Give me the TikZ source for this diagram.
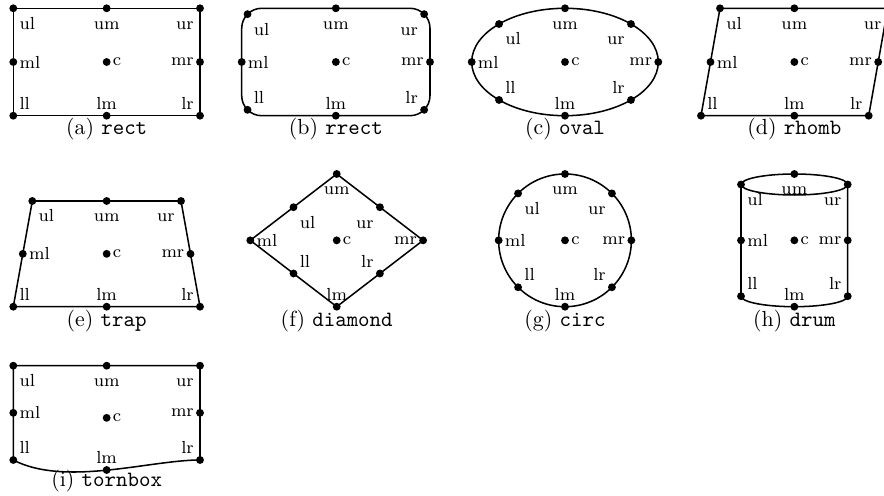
\documentclass[tikz,border=0pt]{standalone}
\tikzset{
  dot/.style={circle, fill=black, inner sep=0pt, minimum size=3.6pt},
  lab/.style={font=\footnotesize, inner sep=2.67pt},
  labUL/.style={lab, anchor=north west, text height=6.7pt, text depth=0pt},
  labUM/.style={lab, anchor=north, text height=6.7pt, text depth=0pt},
  labUR/.style={lab, anchor=north east, text height=6.7pt, text depth=0pt},
  labML/.style={lab, anchor=west},
  labMR/.style={lab, anchor=east},
  labLL/.style={lab, anchor=south west},
  labLM/.style={lab, anchor=south},
  labLR/.style={lab, anchor=south east},
  shp/.style={draw, line width=0.7pt},
  capt/.style={anchor=base, inner sep=0pt, font=\normalsize}
}
\newcommand\putpts[1]{%
  \node[dot] (#1-ul-d) at (#1-ul) {}; \node[labUL] (#1-ul-t) at (#1-ul) {ul};
  \node[dot] (#1-um-d) at (#1-um) {}; \node[labUM] (#1-um-t) at (#1-um) {um};
  \node[dot] (#1-ur-d) at (#1-ur) {}; \node[labUR] (#1-ur-t) at (#1-ur) {ur};
  \node[dot] (#1-ml-d) at (#1-ml) {}; \node[labML] (#1-ml-t) at (#1-ml) {ml};
  \node[dot] (#1-c-d)  at (#1-c)  {}; \node[labML] (#1-c-t)  at (#1-c)  {c};
  \node[dot] (#1-mr-d) at (#1-mr) {}; \node[labMR] (#1-mr-t) at (#1-mr) {mr};
  \node[dot] (#1-ll-d) at (#1-ll) {}; \node[labLL] (#1-ll-t) at (#1-ll) {ll};
  \node[dot] (#1-lm-d) at (#1-lm) {}; \node[labLM] (#1-lm-t) at (#1-lm) {lm};
  \node[dot] (#1-lr-d) at (#1-lr) {}; \node[labLR] (#1-lr-t) at (#1-lr) {lr};
}
\begin{document}
\begin{tikzpicture}[x=0.4575pt, y=-0.4575pt]
\useasboundingbox (0,0) rectangle (884,496);

% ---------- (a) rect ----------
\coordinate (A-ul) at (13.3,8.3);   \coordinate (A-um) at (106.65,8.3);  \coordinate (A-ur) at (200,8.3);
\coordinate (A-ml) at (13.3,62);    \coordinate (A-c)  at (106.65,62);   \coordinate (A-mr) at (200,62);
\coordinate (A-ll) at (13.3,115.7); \coordinate (A-lm) at (106.65,115.7);\coordinate (A-lr) at (200,115.7);
\draw[shp] (A-ul) -- (A-ur) -- (A-lr) -- (A-ll) -- cycle;
\putpts{A}
\node[capt] (A-cap) at (106.65,135) {(a) \texttt{rect}};

% ---------- (b) rrect ----------
\coordinate (B-nw) at (241.7,8.3); \coordinate (B-se) at (430,115.7);
\coordinate (B-ul) at (247.56,14.16); \coordinate (B-um) at (335.85,8.3);  \coordinate (B-ur) at (424.14,14.16);
\coordinate (B-ml) at (241.7,62);     \coordinate (B-c)  at (335.85,62);   \coordinate (B-mr) at (430,62);
\coordinate (B-ll) at (247.56,109.84);\coordinate (B-lm) at (335.85,115.7);\coordinate (B-lr) at (424.14,109.84);
\draw[shp, rounded corners=9.15pt] (B-nw) rectangle (B-se);
\putpts{B}
\node[capt] (B-cap) at (335.85,135) {(b) \texttt{rrect}};

% ---------- (c) oval ----------
\coordinate (C-ul) at (499.03,24.03); \coordinate (C-um) at (565,8.3);  \coordinate (C-ur) at (630.97,24.03);
\coordinate (C-ml) at (471.7,62);     \coordinate (C-c)  at (565,62);   \coordinate (C-mr) at (658.3,62);
\coordinate (C-ll) at (499.03,99.97); \coordinate (C-lm) at (565,115.7);\coordinate (C-lr) at (630.97,99.97);
\draw[shp] (C-c) ellipse [x radius=42.68pt, y radius=24.57pt];
\putpts{C}
\node[capt] (C-cap) at (565,135) {(c) \texttt{oval}};

% ---------- (d) rhomb ----------
\coordinate (D-ul) at (720,8.3);    \coordinate (D-um) at (794.35,8.3);  \coordinate (D-ur) at (887.7,8.3);
\coordinate (D-ml) at (710.5,62);   \coordinate (D-c)  at (794.35,62);   \coordinate (D-mr) at (878.2,62);
\coordinate (D-ll) at (701,115.7);  \coordinate (D-lm) at (794.35,115.7);\coordinate (D-lr) at (868.7,115.7);
\draw[shp] (D-ul) -- (D-ur) -- (D-lr) -- (D-ll) -- cycle;
\putpts{D}
\node[capt] (D-cap) at (794.35,135) {(d) \texttt{rhomb}};

% ---------- (e) trap ----------
\coordinate (E-ul) at (32.3,201);   \coordinate (E-um) at (106.65,201);  \coordinate (E-ur) at (181,201);
\coordinate (E-ml) at (22.8,253.85);\coordinate (E-c)  at (106.65,253.85);\coordinate (E-mr) at (190.5,253.85);
\coordinate (E-ll) at (13.3,306.7); \coordinate (E-lm) at (106.65,306.7);\coordinate (E-lr) at (200,306.7);
\draw[shp] (E-ul) -- (E-ur) -- (E-lr) -- (E-ll) -- cycle;
\putpts{E}
\node[capt] (E-cap) at (106.65,326.5) {(e) \texttt{trap}};

% ---------- (f) diamond ----------
\coordinate (F-ul) at (293.5,207.2); \coordinate (F-um) at (336.7,174);    \coordinate (F-ur) at (379.9,207.2);
\coordinate (F-ml) at (250.3,240.35);\coordinate (F-c)  at (336.7,240.35); \coordinate (F-mr) at (423.1,240.35);
\coordinate (F-ll) at (293.5,273.5); \coordinate (F-lm) at (336.7,306.7);  \coordinate (F-lr) at (379.9,273.5);
\draw[shp] (F-um) -- (F-mr) -- (F-lm) -- (F-ml) -- cycle;
\putpts{F}
\node[capt] (F-cap) at (336.7,326.5) {(f) \texttt{diamond}};

% ---------- (g) circ ----------
\coordinate (G-ul) at (518.08,193.43); \coordinate (G-um) at (565,174);    \coordinate (G-ur) at (611.92,193.43);
\coordinate (G-ml) at (498.65,240.35); \coordinate (G-c)  at (565,240.35); \coordinate (G-mr) at (631.35,240.35);
\coordinate (G-ll) at (518.08,287.27); \coordinate (G-lm) at (565,306.7);  \coordinate (G-lr) at (611.92,287.27);
\draw[shp] (G-c) circle [radius=30.36pt];
\putpts{G}
\node[capt] (G-cap) at (565,326.5) {(g) \texttt{circ}};

% ---------- (h) drum ----------
\coordinate (H-tc) at (794.35,184.5);
\coordinate (H-ul) at (741,184.5);   \coordinate (H-um) at (794.35,174);    \coordinate (H-ur) at (847.7,184.5);
\coordinate (H-ml) at (741,240.35);  \coordinate (H-c)  at (794.35,240.35); \coordinate (H-mr) at (847.7,240.35);
\coordinate (H-ll) at (741,296.2);   \coordinate (H-lm) at (794.35,306.7);  \coordinate (H-lr) at (847.7,296.2);
\draw[shp] (H-tc) ellipse [x radius=24.41pt, y radius=4.80pt];
\draw[shp] (H-ul) -- (H-ll) arc [start angle=180, end angle=360, x radius=24.41pt, y radius=4.80pt] -- (H-ur);
\putpts{H}
\node[capt] (H-cap) at (794.35,326.5) {(h) \texttt{drum}};

% ---------- (i) tornbox ----------
\coordinate (I-ul) at (13.3,365.7);  \coordinate (I-um) at (106.65,365.7); \coordinate (I-ur) at (200,365.7);
\coordinate (I-ml) at (13.3,412.85); \coordinate (I-c)  at (106.65,417.85);\coordinate (I-mr) at (200,412.85);
\coordinate (I-ll) at (13.3,460);    \coordinate (I-lm) at (106.65,470);   \coordinate (I-lr) at (200,460);
\draw[shp] (I-lr) -- (I-ur) -- (I-ul) -- (I-ll) .. controls (65,487) and (150,460) .. (I-lr);
\putpts{I}
\node[capt] (I-cap) at (106.65,486.5) {(i) \texttt{tornbox}};
\end{tikzpicture}
\end{document}
